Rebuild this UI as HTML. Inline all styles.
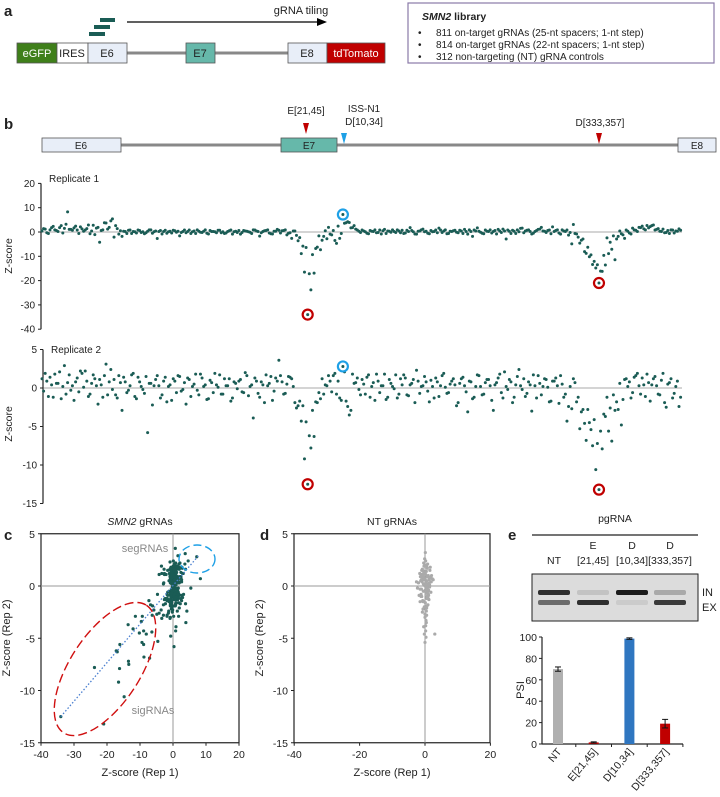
<!DOCTYPE html>
<html><head><meta charset="utf-8">
<style>
html,body{margin:0;padding:0;background:#fff;}
svg{display:block;font-family:"Liberation Sans",Arial,sans-serif;}
text{fill:#222;}
</style></head>
<body>
<svg id="fig" width="720" height="797" viewBox="0 0 720 797" xmlns="http://www.w3.org/2000/svg">
<g>
<text x="4" y="16" font-size="15" font-weight="bold">a</text>
<rect x="100" y="18" width="15" height="4" fill="#1a5c55"/>
<rect x="94" y="25" width="16" height="4" fill="#1a5c55"/>
<rect x="89" y="32" width="16" height="4" fill="#1a5c55"/>
<line x1="127" y1="22" x2="320" y2="22" stroke="#000" stroke-width="1.2"/>
<polygon points="327,22 317,18 317,26" fill="#000"/>
<text x="301" y="14" font-size="11" text-anchor="middle">gRNA tiling</text>
<line x1="127" y1="53" x2="288" y2="53" stroke="#888" stroke-width="3"/>
<rect x="17" y="43" width="40" height="20" fill="#3f7f1a" stroke="#555" stroke-width="0.8"/>
<text x="37" y="57" font-size="11" text-anchor="middle" style="fill:#fff">eGFP</text>
<rect x="57" y="43" width="31" height="20" fill="#fff" stroke="#555" stroke-width="0.8"/>
<text x="72" y="57" font-size="11" text-anchor="middle">IRES</text>
<rect x="88" y="43" width="39" height="20" fill="#e8eef8" stroke="#555" stroke-width="0.8"/>
<text x="107" y="57" font-size="11" text-anchor="middle">E6</text>
<rect x="186" y="43" width="29" height="20" fill="#66b8aa" stroke="#555" stroke-width="0.8"/>
<text x="200" y="57" font-size="11" text-anchor="middle">E7</text>
<rect x="288" y="43" width="39" height="20" fill="#e8eef8" stroke="#555" stroke-width="0.8"/>
<text x="307" y="57" font-size="11" text-anchor="middle">E8</text>
<rect x="327" y="43" width="58" height="20" fill="#c00000" stroke="#555" stroke-width="0.8"/>
<text x="356" y="57" font-size="11" text-anchor="middle" style="fill:#fff">tdTomato</text>
<rect x="408" y="3" width="306" height="60" fill="#fff" stroke="#8a7aa8" stroke-width="1.2"/>
<text x="422" y="20" font-size="10.5" font-weight="bold"><tspan font-style="italic">SMN2</tspan> library</text>
<text x="418" y="36" font-size="10">•</text><text x="436" y="36" font-size="10">811 on-target gRNAs (25-nt spacers; 1-nt step)</text>
<text x="418" y="48" font-size="10">•</text><text x="436" y="48" font-size="10">814 on-target gRNAs (22-nt spacers; 1-nt step)</text>
<text x="418" y="60" font-size="10">•</text><text x="436" y="60" font-size="10">312 non-targeting (NT) gRNA controls</text>
</g>
<g>
<text x="4" y="129" font-size="15" font-weight="bold">b</text>
<line x1="121" y1="145" x2="678" y2="145" stroke="#888" stroke-width="3"/>
<rect x="42" y="138" width="79" height="14" fill="#e8eef8" stroke="#555" stroke-width="0.8"/>
<text x="81" y="149" font-size="10" text-anchor="middle">E6</text>
<rect x="281" y="138" width="56" height="14" fill="#66b8aa" stroke="#555" stroke-width="0.8"/>
<text x="309" y="149" font-size="10" text-anchor="middle">E7</text>
<rect x="678" y="138" width="38" height="14" fill="#e8eef8" stroke="#555" stroke-width="0.8"/>
<text x="697" y="149" font-size="10" text-anchor="middle">E8</text>
<polygon points="303,123 309,123 306,134" fill="#c00000"/>
<text x="306" y="114" font-size="10" text-anchor="middle">E[21,45]</text>
<polygon points="341,133 347,133 344,144" fill="#1ea0e6"/>
<text x="364" y="112" font-size="10" text-anchor="middle">ISS-N1</text>
<text x="364" y="125" font-size="10" text-anchor="middle">D[10,34]</text>
<polygon points="596,133 602,133 599,144" fill="#c00000"/>
<text x="600" y="126" font-size="10" text-anchor="middle">D[333,357]</text>
</g>
<g id="rep1"></g>
<g id="rep2"></g>
<g id="pc"></g>
<g id="pd"></g>
<g id="pe"></g>
</svg>
<script>
const rep1 = [0.4,1.2,-0.6,1.8,0.9,0.2,2.6,1.5,8.3,1.1, 1.7,0.8,2.1,0.3,1.4,-0.7,2.8,1.6,-4.2,0.9, 3.7,1.9,5.4,2.6,-0.9,
-1.8,0.2,0.7,-0.6,0.1,0.8,-0.2,-0.7,0.3,0.9, 0.1,-2.7,0.6,0.2,-0.5,0.3,0.7,-0.1,-1.6,0.2, -0.3,0.8,0.1,-0.6,0.3,-0.2,0.9,-0.8,0.2,0.1, 0.7,-0.3,-0.6,0.2,0.8,0.1,-0.2,-0.9,0.6,0.3, -0.1,0.9,0.4,-1.7,0.2,0.6,-0.4,-0.8,0.3,0.7, 0.5,0.9,-0.5,-2.6,0.4,
-3.6,-8.9,-16.5,-34,-23.8,-16.9,-6.2,-7.3,-1.8,
-2.8,-0.9,0.6,-4.7,-2.6,7.2,3.8,3.9,1.8,1.2,0.3,
0.8,0.1,-0.7,0.3,0.9,-0.2,-0.8,1.1,0.4,-0.1, 0.2,0.9,-0.3,-0.6,0.7,1.8,0.1,-0.9,0.4,1.2, 0.3,-0.7,0.1,0.8,1.6,-0.2,0.9,-0.6,0.2,0.7, -0.3,0.4,1.1,-0.9,0.2,0.8,1.7,-0.1,-0.7,0.3, 0.9,0.2,-0.8,0.4,1.2,-2.9,0.3,0.7,-0.6,0.1, 1.6,0.4,0.9,-0.8,0.2,1.1,1.9,0.3,0.6,-0.7, 0.2,0.9,-0.9,0.4,0.8,-0.2,
3.1,-0.8,-4.6,-2.9,-8.8,-10.2,-13.4,-14.8,-21,-16.2,-13.6,-8.9,-7.1,-11.4,
-1.8,-0.7,-2.6,0.3,-0.8,0.9,0.2,1.8,1.3,2.7, 2.2,2.9,1.1,0.3,1.2,-0.2,-0.6,0.8,0.4,1.3];
const rep2 = [1.2,1.9,-1.1,0.4,1.8,0.6,-1.4,2.9,0.7,-0.3, -1.6,1.3,2.2,0.1,0.9,-0.8,1.7,0.3,1.1,-1.2, 3.1,0.8,-0.2,-0.9,1.6,
-2.9,0.8,-0.3,1.7,-1.1,1.4,0.2,-0.7,-5.8,0.6, 0.3,1.6,-1.3,0.9,-1.8,0.4,1.2,-0.6,1.5,-0.2, -2.1,1.1,0.2,1.8,-0.9,1.3,0.4,-1.4,0.7,1.9, 0.1,-0.8,1.2,0.3,-1.7,0.8,-0.1,1.1,-0.6,1.6, 0.2,-3.9,0.9,-1.2,0.4,1.7,0.6,-1.6,1.3,3.6, 0.8,-0.7,1.5,1.2,-1.9,
-2.3,-4.3,-9.2,-12.5,-7.8,-6.3,-1.9,-1.4,-0.8,
0.3,0.9,1.6,-0.8,-1.3,2.8,-1.7,-3.5,1.8,0.7,-0.2,
1.1,-0.8,1.7,0.2,-1.6,0.9,0.3,1.8,-1.2,0.6, -0.1,-1.3,1.2,1.7,-0.9,0.4,1.1,2.3,-0.7,0.3, 0.8,-1.8,0.2,1.3,-1.1,1.6,0.1,-0.6,0.9,0.4, -1.9,1.2,0.3,-3.1,0.8,-1.2,1.7,0.2,-0.8,1.1, 0.3,-2.9,0.7,1.8,-1.3,0.2,1.1,-1.9,0.4,2.4, -0.2,-1.1,0.8,-3,0.3,1.6,-0.9,1.2,0.1,-1.7, 0.9,0.3,1.6,-1.2,-4.3,0.2,
1.2,-1.8,-5.3,-2.8,-6.8,-4.5,-7.5,-10.6,-13.2,-7.9,-3.7,-5.6,-6.9,-2.9,
-2.8,-4.8,1.1,0.2,-1.3,1.4,1.9,-0.8,0.4,1.8, -1.7,1.2,0.3,-0.9,1.9,-2.5,0.7,-1.3,0.2,-2.4];
const rep1b = [1.4,-0.3,0.9,2.3,0.6,1.8,-0.4,3.2,1.1,0.7, 2.4,-0.6,1.3,0.8,2.9,0.4,-1.1,1.9,0.6,3.8, 1.2,4.6,-2.1,1.4,0.5,
0.3,-0.6,0.8,0.2,-0.4,0.6,0.1,-0.3,0.9,-0.5, 0.4,0.2,-0.8,0.7,0.1,-0.4,0.5,0.3,-0.2,0.8, 0.2,-0.6,0.4,0.9,-0.1,0.3,-0.5,0.6,0.2,-0.3, 0.7,0.1,-0.4,0.5,-0.9,0.3,0.6,-0.2,0.4,0.1, -0.6,0.8,0.2,-0.3,0.5,0.9,-0.7,0.3,1.1,-0.4, 0.6,-1.2,-0.3,0.4,-1.4,
-2.3,-5.8,-6.4,-17.2,-9.3,-6.8,-1.6,-3.4,0.5,
1.9,-1.2,-3.5,2.4,-0.6,3.6,4.2,1.7,2.6,0.8,-0.2,
0.4,-0.5,0.6,0.2,-0.3,0.8,0.5,-0.6,0.3,0.9, -0.2,0.4,0.7,-0.4,0.2,0.6,-0.8,0.3,0.9,0.1, -0.5,0.6,0.2,-0.3,0.8,0.4,-0.7,0.3,0.5,-0.1, 0.7,-0.6,0.2,0.9,-1.8,0.4,0.3,-0.5,0.8,0.2, -0.4,0.6,1.1,-0.2,0.4,0.8,-0.6,0.3,0.9,1.5, -0.3,0.7,0.2,-0.5,0.6,1.2,0.4,-0.2,0.8,2.1, 0.6,-0.4,0.9,0.2,-1.3,-4.9,
-0.6,-2.1,-3.4,-8.1,-6.3,-9.4,-12.1,-13.5,-16.1,-9.6,-2.4,-4.2,-1.6,-2.9,
0.4,-1.2,0.8,-0.4,1.6,0.7,1.9,2.4,0.9,1.7, 2.6,0.8,1.4,0.2,-0.3,0.6,0.9,-0.4,0.3,0.7];
const rep2b = [-0.4,0.9,1.4,-1.2,0.6,2.1,0.2,-0.8,1.7,0.3, 0.8,-0.5,1.9,2.2,-1.1,0.6,1.2,-2.1,0.4,1.6, -0.9,2.4,1.1,-1.3,0.7,
1.4,-0.6,0.3,1.9,-1.4,0.8,-0.2,1.5,0.6,-2.2, 1.1,0.3,-0.9,1.4,0.2,-1.6,0.9,1.6,-0.4,0.7, 1.3,-1.1,0.5,-0.3,1.8,0.2,-1.5,1.0,-0.6,0.4, 1.7,-0.8,0.3,1.2,-1.3,0.6,0.9,-0.5,2.0,-1.0, 0.4,1.3,-0.7,0.8,-1.9,0.3,1.5,-0.4,0.9,1.6, -0.8,0.5,1.4,0.2,-2.6,
-1.7,-2.3,-4.4,-6.2,-2.9,-1.8,-0.6,1.2,0.4,
1.6,-0.5,1.9,0.9,-1.6,2.1,-2.4,-2.9,0.6,1.3,-0.9,
0.5,1.4,-1.2,0.7,1.8,-0.6,0.3,-1.5,1.1,0.2, 1.7,-0.8,0.4,1.3,-1.0,0.6,-1.9,0.9,0.2,1.5, -0.4,1.0,-1.3,0.8,0.3,1.9,-0.7,0.5,1.2,-2.3, 0.6,1.4,-0.5,0.9,-1.4,0.2,1.6,-0.9,0.7,1.1, -1.6,0.4,1.3,-0.6,2.1,-0.2,0.8,-1.2,1.5,0.3, 1.2,-0.7,0.4,1.7,-1.3,0.6,0.2,1.1,-1.8,0.9, 1.3,-2.0,0.5,-0.8,-2.4,-2.7,
0.7,-1.2,-3.1,-4.6,-2.8,-5.4,-4.1,-7.2,-5.6,-3.4,-1.2,-2.6,-0.9,-1.8,
0.6,-1.5,1.2,0.8,-0.6,1.6,0.3,1.3,-1.1,0.7, 0.4,1.5,-0.8,1.0,-1.9,0.5,1.2,-0.7,0.9,-1.2];
const redIdx = [83,174];
const blueIdx = [94];
const rep1Ticks = [20,10,0,-10,-20,-30,-40];
const rep2Ticks = [5,0,-5,-10,-15];
const ntX = [0,1,-1,0.5,-0.5,1.5,-1.5,0,2,-2,0.3,-0.8,1.2,-1.2,0.7,0,1,-1,0.4,-0.4,2.5,-2.3,0.1,0.9,-0.9,1.8,-1.6,0.2,-0.2,0.6,-0.6,1.1,0,0.3,-0.3,1.4,-1.1,0.8,-0.7,0.5,0,3,-0.5,1,0.2,-0.1,0.6,1.3,-1.4,0.1,
0.3,-0.7,1.1,-0.2,0.8,-1.3,0.4,1.6,-0.5,0.1,-0.9,0.7,1.9,-1.8,0.2,0.5,-0.4,1.2,-1.0,0.9,0.0,-0.6,1.4,0.3,-0.3,2.2,-1.5,0.6,-0.1,0.8,1.0,-0.8,0.4,-2.6,0.7,0.2,-0.4,1.3,-1.2,0.5,0.1,0.9,-0.6,1.7,-0.2,0.4,-1.1,0.6,0.3,-0.5];
const ntY = [0,1,-1,0.5,-0.5,1.5,-1.5,2,1,0.3,-2,-2.5,0.8,-0.8,1.7,-3,-1.2,1.1,-3.5,2.2,0.6,-0.2,3.2,-1.8,0.4,-0.6,1.2,-4.3,-4.6,0.9,-2.2,-0.9,-5.4,-4.9,1.9,0.1,-0.3,2.1,-1.4,-2.8,0.7,-4.6,1.4,-0.1,-3.8,0.2,-1,0.6,0.9,-0.4,
0.3,0.8,-0.4,1.3,-1.1,0.5,-0.7,1.8,0.2,-1.6,1.0,-0.2,0.4,-0.9,2.4,-2.1,0.6,-1.3,1.5,-0.5,-2.7,0.9,-0.1,-3.3,1.2,0.7,-0.3,-1.9,2.6,0.1,-0.8,1.6,-2.4,0.4,-0.6,1.1,-3.9,0.3,-1.0,1.9,-0.4,0.2,-1.5,0.8,-2.0,1.4,0.6,-1.2,-0.2,0.9];
const cTicksX = [-40,-30,-20,-10,0,10,20];
const cTicksY = [5,0,-5,-10,-15];
const dTicksX = [-40,-20,0,20];
const barCats = ["NT","E[21,45]","D[10,34]","D[333,357]"];
const barVals = [70,1.5,98.5,19];
const barErr = [2,0.5,0.7,4];
const barColors = ["#b0b0b0","#c00000","#2f76c0","#c00000"];
const psiTicks = [0,20,40,60,80,100];

const NS="http://www.w3.org/2000/svg";
function mk(parent, tag, attrs, text){
  const e=document.createElementNS(NS,tag);
  for(const k in attrs) e.setAttribute(k,attrs[k]);
  if(text!==undefined) e.textContent=text;
  parent.appendChild(e); return e;
}
const DOT="#1a5c55";
const xi = i => 42 + i*(637/(rep1.length-1));
const y1 = v => 232 - v*2.43;
const y2 = v => 388 - v*7.7;
function strip(gid, data, datab, yf, ticks, axisX, label, labelY, zlabY){
  const g=document.getElementById(gid);
  let l=mk(g,'line',{x1:axisX,x2:682,y1:yf(0),y2:yf(0),stroke:'#bbb','stroke-width':1.2});
   
  l=mk(g,'line',{x1:axisX,x2:axisX,y1:yf(ticks[0]),y2:yf(ticks[ticks.length-1]),stroke:'#222','stroke-width':1.2});
   
  ticks.forEach(t=>{
    mk(g,'line',{x1:axisX-3,x2:axisX,y1:yf(t),y2:yf(t),stroke:'#222'});
    const tx=mk(g,'text',{x:axisX-6,y:yf(t)+3.5,'font-size':10,'text-anchor':'end'},String(t));
     
  });
  let t=mk(g,'text',{x:axisX+8,y:labelY,'font-size':10},label);
   
  t=mk(g,'text',{x:0,y:0,'font-size':10.5,'text-anchor':'middle',transform:`translate(12,${zlabY}) rotate(-90)`},'Z-score');
   
  data.forEach((v,i)=>{
    const c=mk(g,'circle',{cx:xi(i),cy:yf(v),r:1.5,fill:DOT});
     
  });
  datab.forEach((v,i)=>{
    const c=mk(g,'circle',{cx:xi(i+0.5),cy:yf(v),r:1.5,fill:DOT});
     
  });
  redIdx.forEach(i=>{
    const c=mk(g,'circle',{cx:xi(i),cy:yf(data[i]),r:5,fill:'none',stroke:'#c00000','stroke-width':2.2});
     
  });
  blueIdx.forEach(i=>{
    const c=mk(g,'circle',{cx:xi(i),cy:yf(data[i]),r:5,fill:'none',stroke:'#1ea0e6','stroke-width':2.2});
     
  });
}
strip('rep1',rep1,rep1b,y1,rep1Ticks,41,'Replicate 1',182,256);
strip('rep2',rep2,rep2b,y2,rep2Ticks,43,'Replicate 2',353,424);

const cy = v => 586 - v*10.45;
function scatterFrame(g, x0, x1, xf, xticks, title, titleItalic, letter, letterX){
  let r=mk(g,'rect',{x:x0,y:cy(5),width:x1-x0,height:cy(-15)-cy(5),fill:'none',stroke:'#222','stroke-width':1.2});
   
  let l=mk(g,'line',{x1:x0,x2:x1,y1:cy(0),y2:cy(0),stroke:'#999'});
   
  l=mk(g,'line',{x1:xf(0),x2:xf(0),y1:cy(5),y2:cy(-15),stroke:'#999'});
   
  cTicksY.forEach(t=>{
    mk(g,'line',{x1:x0-3,x2:x0,y1:cy(t),y2:cy(t),stroke:'#222'});
    const tx=mk(g,'text',{x:x0-6,y:cy(t)+4,'font-size':10.5,'text-anchor':'end'},String(t));
     
  });
  xticks.forEach(t=>{
    mk(g,'line',{x1:xf(t),x2:xf(t),y1:cy(-15),y2:cy(-15)+3,stroke:'#222'});
    const tx=mk(g,'text',{x:xf(t),y:cy(-15)+15,'font-size':10.5,'text-anchor':'middle'},String(t));
     
  });
  let t=mk(g,'text',{x:(x0+x1)/2,y:776,'font-size':11,'text-anchor':'middle'},'Z-score (Rep 1)');
   
  t=mk(g,'text',{x:0,y:0,'font-size':11,'text-anchor':'middle',transform:`translate(${x0-31},638) rotate(-90)`},'Z-score (Rep 2)');
   
  t=mk(g,'text',{x:(x0+x1)/2,y:525,'font-size':10.5,'text-anchor':'middle'});
  if(titleItalic){mk(t,'tspan',{'font-style':'italic'},titleItalic);}
  mk(t,'tspan',{},title);
   
  t=mk(g,'text',{x:letterX,y:540,'font-size':15,'font-weight':'bold'},letter);
   
}
const cx = v => 173 + v*3.3;
const gc=document.getElementById('pc');
scatterFrame(gc,41,239,cx,cTicksX,' gRNAs','SMN2','c',4);
rep1.forEach((v,i)=>{
  const c=mk(gc,'circle',{cx:cx(v),cy:cy(rep2[i]),r:1.6,fill:DOT});
   
});
rep1b.forEach((v,i)=>{
  const c=mk(gc,'circle',{cx:cx(v),cy:cy(rep2b[i]),r:1.6,fill:DOT});
   
});
let e=mk(gc,'line',{x1:cx(-34),y1:cy(-12.5),x2:cx(8),y2:cy(3),stroke:'#4a7fd0','stroke-width':1.3,'stroke-dasharray':'1.5,2'});
 
e=mk(gc,'ellipse',{cx:105,cy:669,rx:76,ry:35,fill:'none',stroke:'#d01010','stroke-width':1.4,'stroke-dasharray':'9,4',transform:'rotate(-57 105 669)'});
 
e=mk(gc,'ellipse',{cx:197,cy:559,rx:18,ry:14,fill:'none',stroke:'#1ea0e6','stroke-width':1.4,'stroke-dasharray':'8,4'});
 
e=mk(gc,'text',{x:145,y:552,'font-size':11,'text-anchor':'middle',style:'fill:#888'},'segRNAs');
 
e=mk(gc,'text',{x:153,y:714,'font-size':11,'text-anchor':'middle',style:'fill:#888'},'sigRNAs');
 

const dx = v => 425 + v*3.27;
const gd=document.getElementById('pd');
scatterFrame(gd,294,490,dx,dTicksX,'NT gRNAs',null,'d',260);
ntX.forEach((v,i)=>{
  const c=mk(gd,'circle',{cx:dx(v),cy:cy(ntY[i]),r:1.6,fill:'#aaa'});
   
});

const ge=document.getElementById('pe');
let t=mk(ge,'text',{x:508,y:540,'font-size':15,'font-weight':'bold'},'e');
 
t=mk(ge,'text',{x:615,y:522,'font-size':10.5,'text-anchor':'middle'},'pgRNA');
 
mk(ge,'line',{x1:532,x2:698,y1:535,y2:535,stroke:'#222','stroke-width':1.2});
const laneX=[554,593,632,670];
const laneTop=[null,'E','D','D'];
const laneBot=['NT','[21,45]','[10,34]','[333,357]'];
laneX.forEach((x,i)=>{
  if(laneTop[i]){const a=mk(ge,'text',{x:x,y:549,'font-size':10.5,'text-anchor':'middle'},laneTop[i]);}
  const b=mk(ge,'text',{x:x,y:564,'font-size':10.5,'text-anchor':'middle'},laneBot[i]);
   
});
let gel=mk(ge,'rect',{x:532,y:574,width:166,height:47,fill:'#dcdcdc',stroke:'#222','stroke-width':1});
 
const inOp=[0.85,0.12,0.95,0.25], exOp=[0.55,0.85,0.08,0.8];
laneX.forEach((x,i)=>{
  let b=mk(ge,'rect',{x:x-16,y:590,width:32,height:5,rx:2,fill:'#111','fill-opacity':inOp[i]});
   
  b=mk(ge,'rect',{x:x-16,y:600,width:32,height:5,rx:2,fill:'#111','fill-opacity':exOp[i]});
   
});
t=mk(ge,'text',{x:702,y:596,'font-size':11},'IN');
t=mk(ge,'text',{x:702,y:611,'font-size':11},'EX');
const by = v => 744 - v*1.07;
const bx = i => 558 + i*35.7;
mk(ge,'line',{x1:542,x2:542,y1:by(100),y2:by(0),stroke:'#222','stroke-width':1.2});
mk(ge,'line',{x1:542,x2:683,y1:by(0),y2:by(0),stroke:'#222','stroke-width':1.2});
psiTicks.forEach(v=>{
  mk(ge,'line',{x1:539,x2:542,y1:by(v),y2:by(v),stroke:'#222'});
  const a=mk(ge,'text',{x:537,y:by(v)+4,'font-size':10.5,'text-anchor':'end'},String(v));
   
});
t=mk(ge,'text',{x:0,y:0,'font-size':11,'text-anchor':'middle',transform:'translate(524,690) rotate(-90)'},'PSI');
 
barVals.forEach((v,i)=>{
  const r=mk(ge,'rect',{x:bx(i)-5,y:by(v),width:10,height:by(0)-by(v),fill:barColors[i]});
   
  const er=barErr[i];
  mk(ge,'line',{x1:bx(i),x2:bx(i),y1:by(v+er),y2:by(v-er),stroke:'#111'});
  mk(ge,'line',{x1:bx(i)-3,x2:bx(i)+3,y1:by(v+er),y2:by(v+er),stroke:'#111'});
  mk(ge,'line',{x1:bx(i)-3,x2:bx(i)+3,y1:by(v-er),y2:by(v-er),stroke:'#111'});
  const tk=bx(i)+17.8;
  mk(ge,'line',{x1:tk,x2:tk,y1:by(0),y2:by(0)+3,stroke:'#222'});
  const a=mk(ge,'text',{x:0,y:0,'font-size':10.5,'text-anchor':'end',transform:`translate(${bx(i)+4},${by(0)+8}) rotate(-50)`},barCats[i]);
   
});
</script>
</body></html>
